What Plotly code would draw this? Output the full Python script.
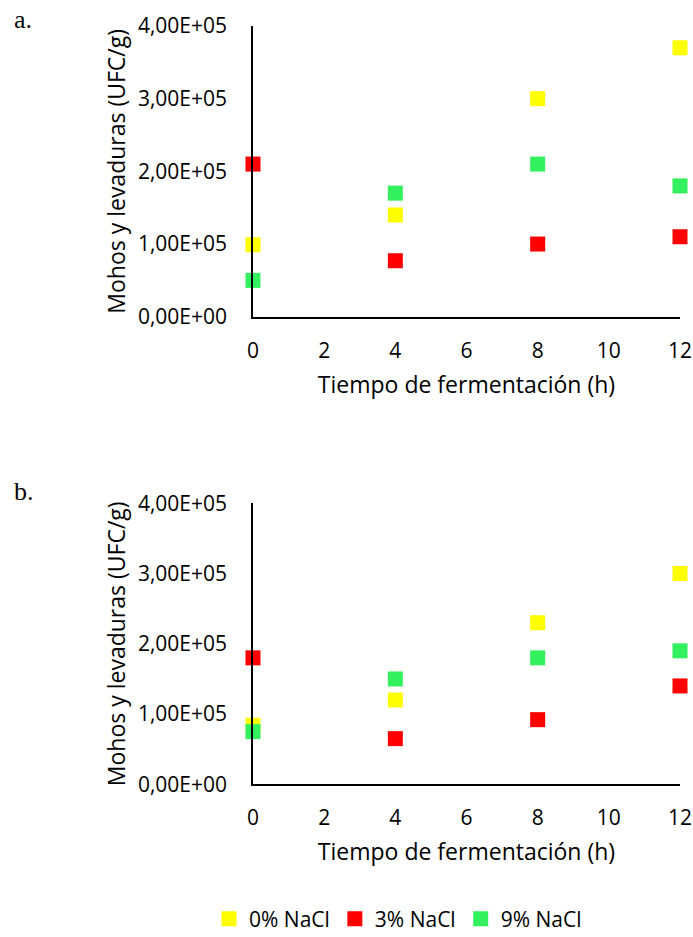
import plotly.graph_objects as go

x_times = [0, 4, 8, 12]
series_names = ["0% NaCl", "3% NaCl", "9% NaCl"]
series_colors = ["#FFFF00", "#FF0000", "#33F05F"]

a_0 = [99000, 140000, 300000, 370000]
a_3 = [210000, 77000, 100000, 110000]
a_9 = [50000, 170000, 210000, 180000]

b_0 = [84000, 120000, 230000, 300000]
b_3 = [180000, 65000, 92000, 140000]
b_9 = [75000, 150000, 180000, 190000]

y_tickvals = [0, 100000, 200000, 300000, 400000]
y_ticktext = ["0,00E+00", "1,00E+05", "2,00E+05", "3,00E+05", "4,00E+05"]
x_tickvals = [0, 2, 4, 6, 8, 10, 12]

FONT = "Open Sans"
FS_TICK = 21
FS_TITLE = 23
fig = go.Figure()

for i, (name, col) in enumerate(zip(series_names, series_colors)):
    ya = [a_0, a_3, a_9][i]
    yb = [b_0, b_3, b_9][i]
    fig.add_trace(go.Scatter(x=x_times, y=ya, mode="markers", name=name,
                             marker=dict(symbol="square", size=15, color=col),
                             cliponaxis=False, xaxis="x", yaxis="y", legendgroup=name))
    fig.add_trace(go.Scatter(x=x_times, y=yb, mode="markers", name=name,
                             marker=dict(symbol="square", size=15, color=col),
                             cliponaxis=False, xaxis="x2", yaxis="y2", legendgroup=name,
                             showlegend=False))

xdom = [253 / 693, 680 / 693]
ax_common = dict(showgrid=False, zeroline=False, showline=True, linecolor="black",
                 linewidth=1.5, automargin=False,
                 tickfont=dict(family=FONT, size=FS_TICK, color="black"))

xa = dict(ax_common, range=[0, 12], tickvals=x_tickvals, domain=xdom,
          ticks="outside", ticklen=14, tickcolor="rgba(0,0,0,0)",
          title=dict(text="Tiempo de fermentación (h)", standoff=14,
                     font=dict(family=FONT, size=FS_TITLE, color="black")))
ya_ = dict(ax_common, range=[0, 400000], tickvals=y_tickvals, ticktext=y_ticktext,
           ticks="outside", ticklen=20, tickcolor="rgba(0,0,0,0)",
           title=dict(text="Mohos y levaduras (UFC/g)", standoff=6,
                      font=dict(family=FONT, size=FS_TITLE, color="black")))

fig.update_layout(
    width=693, height=937,
    margin=dict(l=0, r=0, t=0, b=0, autoexpand=False),
    paper_bgcolor="white", plot_bgcolor="white",
    xaxis=dict(xa, anchor="y"),
    yaxis=dict(ya_, anchor="x", domain=[1 - 316.7 / 937, 1 - 26 / 937]),
    xaxis2=dict(xa, anchor="y2"),
    yaxis2=dict(ya_, anchor="x2", domain=[1 - 784.3 / 937, 1 - 503.3 / 937]),
    legend=dict(orientation="h", x=398 / 693, xanchor="center", y=1 - 919 / 937,
                yanchor="middle", font=dict(family=FONT, size=21, color="black"),
                itemwidth=30, tracegroupgap=0),
    annotations=[
        dict(text="a.", x=12 / 693, y=1 - 20 / 937, xref="paper", yref="paper",
             xanchor="left", yanchor="middle", showarrow=False,
             font=dict(family="Liberation Serif", size=26, color="black")),
        dict(text="b.", x=12 / 693, y=1 - 492 / 937, xref="paper", yref="paper",
             xanchor="left", yanchor="middle", showarrow=False,
             font=dict(family="Liberation Serif", size=26, color="black")),
    ],
)

fig.write_html("out.html", config={"displayModeBar": False},
               post_script="document.body.style.margin='0';document.body.style.overflow='hidden';")
